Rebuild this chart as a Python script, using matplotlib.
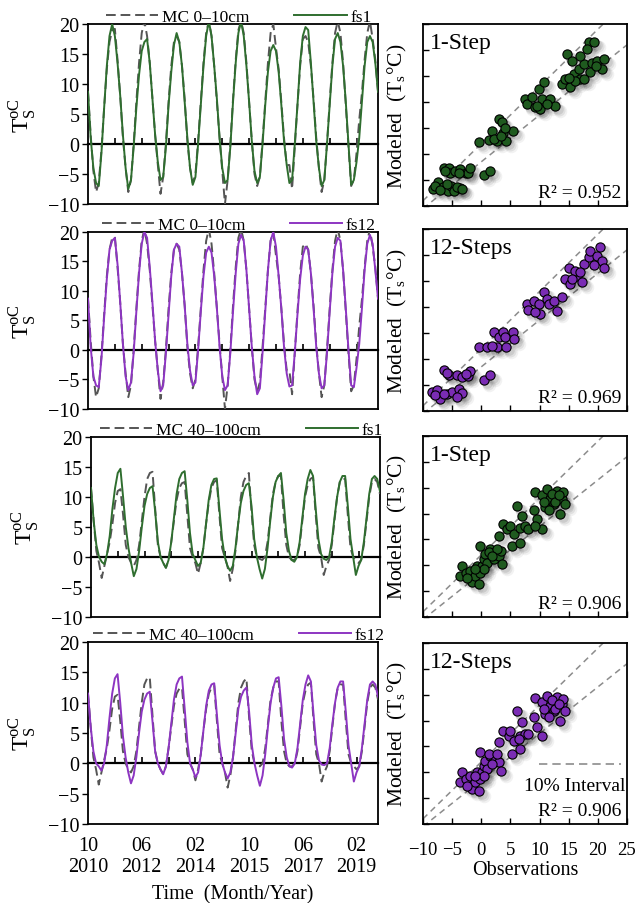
import matplotlib
matplotlib.use('Agg')
import matplotlib.pyplot as plt
from matplotlib.transforms import offset_copy
from matplotlib.lines import Line2D
import numpy as np

plt.rcParams['font.family'] = ['Liberation Serif', 'DejaVu Serif']
plt.rcParams['axes.unicode_minus'] = True

# monthly series, Oct 2010 .. Oct 2019
mc_0_10 = [8.7, 1.5, -4.5, -8.0, -6.5, -1.0, 6.0, 12.5, 17.0, 19.0, 19.2, 14.0,
           8.0, 1.0, -4.0, -8.0, -6.0, 0.0, 7.0, 13.5, 18.5, 20.5, 18.0, 13.5,
           7.5, 1.5, -3.5, -8.3, -5.5, 0.0, 7.0, 13.0, 17.0, 18.0, 17.0, 13.0,
           7.5, 0.5, -4.0, -6.5, -5.0, 0.5, 7.0, 13.5, 18.5, 20.5, 18.0, 13.0,
           7.0, 1.0, -4.5, -10.0, -6.0, 0.0, 7.5, 14.0, 19.0, 20.5, 18.5, 13.5,
           7.0, 0.5, -5.0, -7.0, -5.5, 0.5, 7.0, 13.5, 18.5, 20.0, 16.0, 12.5,
           7.0, 1.0, -3.5, -3.5, -7.5, -0.5, 6.5, 13.0, 17.5, 18.0, 17.0, 13.0,
           7.5, 1.0, -4.0, -8.0, -6.0, 0.0, 7.0, 13.5, 18.5, 20.5, 18.5, 13.5,
           6.5, -0.5, -7.0, -6.0, -1.5, 4.0, 8.5, 14.0, 18.5, 20.5, 17.5, 14.0, 8.7]
fs1_0_10 = [8.7, 1.0, -4.0, -6.5, -7.0, -1.5, 6.0, 13.0, 18.0, 20.0, 18.0, 13.5,
            8.0, 1.5, -4.0, -7.5, -6.0, -0.5, 6.0, 11.5, 15.5, 17.0, 17.5, 13.5,
            7.5, 1.5, -3.0, -6.0, -5.5, -0.5, 6.5, 12.0, 16.5, 18.5, 17.0, 13.0,
            7.0, 1.0, -4.0, -6.8, -5.5, 0.0, 6.5, 13.0, 18.0, 20.5, 18.0, 13.0,
            7.5, 1.0, -4.0, -6.5, -6.0, -0.5, 7.0, 13.5, 18.5, 20.5, 18.0, 13.0,
            7.0, 0.5, -4.5, -6.5, -5.5, 0.0, 6.5, 12.0, 15.5, 16.5, 15.5, 12.0,
            6.5, 0.5, -3.5, -6.5, -6.0, 0.0, 6.5, 13.5, 18.0, 19.5, 19.0, 13.5,
            7.0, 0.5, -4.0, -7.0, -6.0, 0.0, 6.5, 13.0, 17.5, 18.5, 17.0, 13.0,
            7.0, 0.0, -6.8, -6.0, -3.0, 1.0, 7.0, 13.0, 17.0, 18.0, 17.0, 13.5, 8.7]
fs12_0_10 = [8.7, 0.5, -4.5, -6.0, -6.3, -1.5, 5.5, 12.0, 17.0, 18.5, 19.0, 14.5,
             8.0, 1.0, -4.5, -6.8, -5.5, -0.5, 6.5, 13.0, 18.0, 20.0, 19.0, 14.0,
             8.0, 1.5, -3.5, -7.0, -6.0, -0.5, 6.0, 12.5, 17.0, 18.0, 17.5, 13.0,
             7.5, 1.0, -3.5, -6.0, -5.5, 0.0, 6.5, 12.5, 16.5, 17.5, 16.5, 12.5,
             7.0, 0.5, -4.5, -6.8, -6.0, -0.5, 6.5, 13.0, 18.0, 19.5, 18.5, 13.5,
             7.0, 0.5, -4.5, -7.5, -6.5, -0.5, 6.5, 13.5, 18.5, 20.0, 17.5, 12.5,
             7.0, 0.5, -4.0, -6.2, -6.0, -0.5, 6.0, 12.0, 16.0, 17.5, 17.0, 13.0,
             7.0, 0.5, -4.0, -6.5, -6.0, -0.5, 6.5, 13.0, 17.5, 19.0, 18.5, 13.5,
             7.0, 0.0, -6.0, -6.3, -3.0, 1.0, 7.0, 13.5, 18.0, 19.5, 18.0, 13.5, 8.7]
mc_40_100 = [11.5, 6.0, 1.0, -1.0, -3.5, -1.5, 0.5, 2.5, 5.5, 9.0, 11.0, 11.3,
             7.0, 2.0, 0.0, -1.0, -1.5, -0.5, 2.0, 6.0, 10.0, 13.0, 14.0, 14.2,
             8.0, 2.0, 0.0, -1.0, -1.8, -0.5, 2.5, 6.0, 9.5, 11.5, 12.3, 12.5,
             7.0, 1.5, 0.0, -1.0, -2.8, -1.0, 1.5, 5.5, 9.0, 11.5, 12.5, 12.8,
             7.0, 1.5, 0.0, -1.5, -4.0, -2.0, 1.0, 5.5, 10.0, 12.5, 13.5, 14.0,
             7.5, 2.0, 0.0, -0.3, -0.5, 0.0, 2.5, 6.5, 10.5, 12.5, 13.5, 13.5,
             7.0, 2.0, 0.0, -0.5, -0.5, 0.0, 2.0, 6.0, 10.0, 12.0, 13.0, 13.3,
             7.0, 1.5, 0.0, -3.0, -1.5, -0.5, 2.0, 6.0, 10.0, 12.5, 13.0, 13.0,
             7.0, 1.5, 0.0, -0.5, -1.0, -0.5, 2.0, 6.0, 10.0, 12.5, 13.0, 12.5, 10.5]
fs1_40_100 = [11.5, 6.0, 2.0, 0.0, -0.8, -1.2, 0.5, 3.5, 8.0, 11.5, 14.0, 14.7,
              10.0, 5.0, 1.5, -1.0, -3.2, -2.0, 1.0, 5.0, 8.5, 10.5, 11.5, 11.8,
              7.5, 2.5, 0.0, -1.0, -1.8, -0.5, 2.5, 6.5, 10.5, 13.0, 14.0, 14.3,
              9.5, 4.0, 0.5, -0.5, -1.5, -1.0, 1.5, 5.5, 9.5, 12.0, 13.0, 13.1,
              8.0, 3.0, 0.0, -1.5, -2.3, -1.5, 1.5, 5.5, 9.0, 11.0, 12.0, 12.3,
              8.5, 3.0, 0.0, -2.0, -3.6, -2.0, 1.5, 6.0, 10.0, 12.5, 13.5, 14.0,
              9.5, 4.0, 1.0, -0.5, -0.8, 0.0, 2.5, 6.5, 10.5, 13.0, 14.5, 13.5,
              8.0, 3.0, 0.5, -0.3, -0.5, 0.0, 2.5, 6.5, 10.0, 12.5, 13.5, 13.5,
              8.5, 3.0, 0.0, -3.0, -1.5, -0.5, 2.5, 6.5, 10.5, 13.0, 13.5, 13.0, 11.0]
fs12_40_100 = [11.5, 6.0, 2.0, 0.0, -0.5, -1.2, 0.0, 3.0, 7.5, 11.5, 14.0, 14.7,
               10.0, 4.5, 1.0, -1.5, -3.3, -2.0, 1.0, 5.0, 8.5, 10.5, 11.5, 11.8,
               7.0, 2.0, 0.0, -1.0, -1.8, -0.5, 2.5, 6.5, 10.5, 13.0, 14.0, 14.3,
               9.0, 3.5, 0.0, -1.0, -2.3, -1.5, 1.5, 5.5, 9.5, 12.0, 13.0, 13.2,
               8.0, 3.0, 0.0, -1.5, -2.5, -1.5, 1.0, 5.0, 9.0, 11.0, 12.0, 12.5,
               8.5, 3.0, 0.0, -2.0, -3.7, -2.0, 1.5, 6.0, 10.0, 12.5, 14.0, 14.2,
               9.5, 4.0, 1.0, -0.5, -0.7, 0.0, 2.5, 6.5, 10.5, 13.0, 14.5, 13.5,
               8.0, 3.0, 0.5, -0.2, -0.3, 0.0, 2.5, 6.5, 10.0, 12.5, 13.5, 13.5,
               8.5, 3.0, 0.0, -3.0, -1.5, -0.5, 2.5, 6.5, 10.5, 13.0, 13.5, 13.0, 11.0]

time_ticks = [0, 20, 40, 60, 80, 100]
time_labels = ['10\n2010', '06\n2012', '02\n2014', '10\n2015', '06\n2017', '02\n2019']

# scatter: observations vs modeled
obs_1 = [-8.2, -7.4, -6.6, -5.7, -5.2, -4.6, -3.7, -7.9, -7.0, -5.9, -4.2, -3.3,
         -6.45, -5.6, -5.3, -4.45, -3.6, -2.7, -2.2, -1.9, -6.2, -3.9, 0.4, 1.55,
         -0.45, 1.3, 1.8, 3.0, 3.55, 2.7, 4.3, 3.8, 5.4, 2.1, 3.3, 4.0,
         7.55, 7.8, 8.7, 9.3, 9.85, 10.7, 10.4, 11.8, 12.7, 10.1, 9.55, 11.3,
         14.7, 15.6, 13.85, 14.4, 15.3, 15.85, 16.7, 17.0, 17.6, 18.4, 19.3, 18.1,
         19.0, 19.85, 20.7, 21.0, 18.7, 16.1, 15.0, 17.7, 19.6, 17.0]
mod_1 = [-6.8, -5.4, -6.4, -7.1, -6.1, -7.2, -6.6, -6.1, -6.9, -5.8, -6.3, -6.7,
         -2.6, -2.7, -3.6, -3.3, -2.9, -3.6, -3.7, -2.6, -3.3, -3.6, -4.1, -3.3,
         2.3, 2.7, 4.45, 6.7, 6.2, 2.5, 2.5, 4.1, 4.45, 2.85, 3.5, 5.1,
         10.55, 9.6, 10.9, 8.95, 12.5, 13.8, 10.55, 10.55, 9.3, 8.6, 9.25, 9.6,
         19.2, 17.9, 13.4, 14.4, 12.8, 15.4, 16.3, 14.4, 17.3, 21.5, 21.5, 20.2,
         17.6, 17.9, 16.3, 18.3, 15.7, 14.1, 14.7, 14.4, 17.0, 18.9]

obs_2 = [-8.46, -7.6, -7.0, -5.9, -5.0, -3.9, -3.3, -4.2, -7.9, -6.45,
         -6.45, -5.6, -4.2, -3.3, -2.2, -1.9, -5.9, -2.7, 0.4, 1.55,
         -0.45, 1.0, 2.1, 3.0, 3.7, 4.1, 5.4, 5.55, 2.7, 4.3, 1.8,
         7.8, 8.1, 9.0, 9.85, 10.7, 11.3, 11.6, 12.4, 13.0, 13.85, 10.1, 9.3,
         15.0, 14.4, 15.3, 16.4, 17.3, 17.6, 18.4, 18.7, 20.4, 19.85, 20.7, 21.0,
         19.3, 16.1, 15.6, 17.0]
mod_2 = [-6.35, -6.0, -7.6, -6.7, -6.35, -5.7, -6.5, -7.3, -7.0, -6.8,
         -2.2, -3.15, -3.0, -3.5, -3.35, -2.3, -2.7, -2.8, -4.1, -3.15,
         2.3, 2.4, 5.2, 4.3, 5.2, 4.2, 5.2, 3.9, 2.3, 2.4, 2.6,
         10.6, 9.45, 11.2, 10.6, 12.8, 11.55, 10.6, 11.2, 9.3, 11.9, 8.7, 9.0,
         17.6, 15.4, 14.4, 16.0, 14.8, 18.3, 19.6, 20.8, 21.5, 19.9, 18.9, 17.6,
         18.0, 17.0, 15.4, 16.7]

obs_3 = [-3.6, -3.3, -2.7, -1.9, -1.6, -1.0, -0.75, -0.45, -0.2, -0.2, 0.1, 0.4,
         0.7, 1.0, 1.55, 2.1, 2.4, 3.0, 3.3, 1.3, 0.4, -1.0, -2.45, 2.7, 1.8, 3.55,
         3.0, 3.8, 4.4, 5.0, 5.55, 5.3, 6.1, 6.7, 7.0, 6.7, 7.55, 8.1, 9.0, 9.55, 10.4, 9.3,
         9.3, 10.4, 11.3, 11.8, 12.4, 13.0, 13.85, 14.1, 13.55, 11.0, 11.6, 12.1,
         12.7, 13.3, 10.7, 14.4]
mod_3 = [-2.04, -0.1, -1.4, -1.1, -3.3, -2.0, -0.1, -3.7, 3.8, -1.4, -0.1, 1.2,
         2.2, 0.5, 3.1, 1.2, 2.5, 1.8, 2.8, 2.5, -0.75, -0.75, -2.4, 3.1, 1.8, 0.2,
         5.7, 8.0, 7.0, 7.65, 6.0, 3.8, 11.5, 4.4, 9.6, 7.3, 7.65, 7.0, 10.6, 9.0, 7.0, 7.65,
         14.25, 13.5, 14.8, 12.8, 11.9, 14.45, 12.8, 14.1, 9.9, 11.2, 10.6, 13.8,
         12.2, 13.5, 12.2, 11.9]

obs_4 = [-3.6, -3.3, -2.7, -1.9, -1.6, -1.0, -0.75, -0.45, -0.2, -0.2, 0.1, 0.4,
         0.7, 1.0, 1.55, 2.1, 2.4, 3.0, 3.3, 1.3, 0.4, -1.0, -2.45, 2.7, 1.8,
         6.1, 7.0, 9.0, 3.0, 3.8, 4.7, 5.0, 5.55, 5.3, 6.7, 6.7, 7.55, 8.1, 9.55, 6.4,
         9.3, 10.4, 11.3, 11.8, 12.4, 13.0, 13.85, 14.1, 13.55, 10.4, 11.0, 11.6,
         12.1, 12.7, 13.3, 10.7, 14.4]
mod_4 = [-1.9, 0.0, -1.3, -0.65, -3.2, -1.9, 0.0, -3.55, 4.0, -1.3, 0.0, 1.3,
         2.25, 0.65, 3.2, 2.6, 2.9, 1.9, 0.3, 3.5, -0.65, -0.65, -2.6, 3.5, 1.6,
         11.9, 9.7, 10.6, 5.8, 8.05, 7.1, 8.05, 6.1, 3.5, 4.5, 7.1, 7.4, 7.4, 8.7, 6.4,
         14.3, 13.5, 14.8, 12.9, 11.9, 14.5, 13.2, 14.2, 10.0, 7.1, 11.3, 10.6,
         13.9, 12.2, 13.2, 12.2, 11.9]

r2_labels = ['R² = 0.952', 'R² = 0.969', 'R² = 0.906', 'R² = 0.906']
step_labels = ['1-Step', '12-Steps', '1-Step', '12-Steps']

green = '#2f6e2f'
purple = '#8d35c2'
green_dot = '#1f5a1f'
purple_dot = '#7a2cb4'
mc_color = '#555555'

fig = plt.figure(figsize=(6.35, 9.04), dpi=100)

left_boxes = [[0.1386, 0.7732, 0.4567, 0.1991],
              [0.1386, 0.5465, 0.4567, 0.1958],
              [0.1433, 0.3164, 0.4550, 0.1991],
              [0.1386, 0.0874, 0.4567, 0.2013]]
right_boxes = [[0.6661, 0.7710, 0.3213, 0.2013],
               [0.6661, 0.5442, 0.3213, 0.2013],
               [0.6661, 0.3164, 0.3213, 0.2002],
               [0.6661, 0.0874, 0.3213, 0.2002]]

series = [(mc_0_10, fs1_0_10, 'MC 0\u201310cm', 'fs1', green),
          (mc_0_10, fs12_0_10, 'MC 0\u201310cm', 'fs12', purple),
          (mc_40_100, fs1_40_100, 'MC 40\u2013100cm', 'fs1', green),
          (mc_40_100, fs12_40_100, 'MC 40\u2013100cm', 'fs12', purple)]

fs = 14.5
for i, (mc, fc, mc_lab, fc_lab, col) in enumerate(series):
    ax = fig.add_axes(left_boxes[i])
    m = np.arange(len(mc))
    ax.plot(m, mc, color=mc_color, lw=1.4, ls=(0, (5, 2.5)), label=mc_lab, zorder=3)
    ax.plot(np.arange(len(fc)), fc, color=col, lw=1.4, label=fc_lab, zorder=4)
    ax.set_xlim(0, 108)
    ax.set_ylim(-10, 20)
    ax.set_yticks(np.arange(-10, 21, 5))
    ax.tick_params(axis='y', direction='out', length=4, width=1, labelsize=fs, pad=2)
    ax.set_xticks(time_ticks)
    ax.tick_params(axis='x', length=0, labelsize=fs, pad=9)
    if i == 3:
        ax.set_xticklabels(time_labels, linespacing=1.1)
        ax.set_xlabel('Time  (Month/Year)', fontsize=fs, labelpad=6)
    else:
        ax.set_xticklabels([])
    # zero line with ticks pointing up
    sec = ax.secondary_xaxis(0, transform=ax.transData)
    sec.set_xticks(np.arange(10, 101, 10))
    sec.tick_params(direction='in', length=4, width=1.2, labelbottom=False)
    sec.spines['bottom'].set_linewidth(1.6)
    for sp in ax.spines.values():
        sp.set_linewidth(1.3)
    ax.set_ylabel(r'T$_\mathregular{S}^\mathregular{oC}$', fontsize=17)
    ax.yaxis.set_label_coords(-0.17, 0.5)
    ax.legend(loc='lower center', bbox_to_anchor=(0.52, 0.99), ncol=2, frameon=False,
              fontsize=12.5, handlelength=3.0, columnspacing=2.6, handletextpad=0.2,
              borderaxespad=0, borderpad=0.05)

scat = [(obs_1, mod_1, green_dot), (obs_2, mod_2, purple_dot),
        (obs_3, mod_3, green_dot), (obs_4, mod_4, purple_dot)]
line_x = np.array([-10, 25])
for i, (ob, md, col) in enumerate(scat):
    ax = fig.add_axes(right_boxes[i])
    ax.plot(line_x, 1.1 * line_x + 2, color='#8c8c8c', lw=1.1, ls=(0, (4, 3)), zorder=1)
    ax.plot(line_x, 0.9 * line_x - 1.5, color='#8c8c8c', lw=1.1, ls=(0, (4, 3)), zorder=1)
    # soft shadow
    for k, (d, s, a) in enumerate([(5, 95, 0.05), (4, 75, 0.07), (3, 58, 0.09)]):
        tr = offset_copy(ax.transData, fig=fig, x=d, y=-d, units='dots')
        ax.scatter(ob, md, s=s, color='black', alpha=a, lw=0, transform=tr, zorder=2)
    ax.scatter(ob, md, s=44, color=col, edgecolor='black', lw=0.8, zorder=3)
    ax.set_xlim(-10, 25)
    ax.set_ylim(-10, 25)
    ax.set_xticks(np.arange(-10, 26, 5))
    ax.set_yticks(np.arange(-10, 26, 5))
    ax.tick_params(direction='in', length=4, width=1, labelsize=13.5, labelleft=False,
                   pad=12)
    if i == 3:
        ax.set_xlabel('Observations', fontsize=fs, labelpad=2)
    else:
        ax.set_xticklabels([])
    for sp in ax.spines.values():
        sp.set_linewidth(1.3)
    ax.set_ylabel('Modeled  (T$_\\mathregular{s}$°C)', fontsize=15.5)
    ax.yaxis.set_label_coords(-0.07, 0.5)
    ax.text(0.035, 0.90, step_labels[i], transform=ax.transAxes, fontsize=17,
            ha='left', va='center')
    ax.text(0.97, 0.075, r2_labels[i], transform=ax.transAxes, fontsize=14,
            ha='right', va='center')
    if i == 3:
        ax.add_line(Line2D([0.57, 0.97], [0.33, 0.33], transform=ax.transAxes,
                           color='#8c8c8c', lw=1.2, ls=(0, (5, 3))))
        ax.text(0.99, 0.215, '10% Interval', transform=ax.transAxes, fontsize=14,
                ha='right', va='center')

fig.savefig('out.png', dpi=100)
